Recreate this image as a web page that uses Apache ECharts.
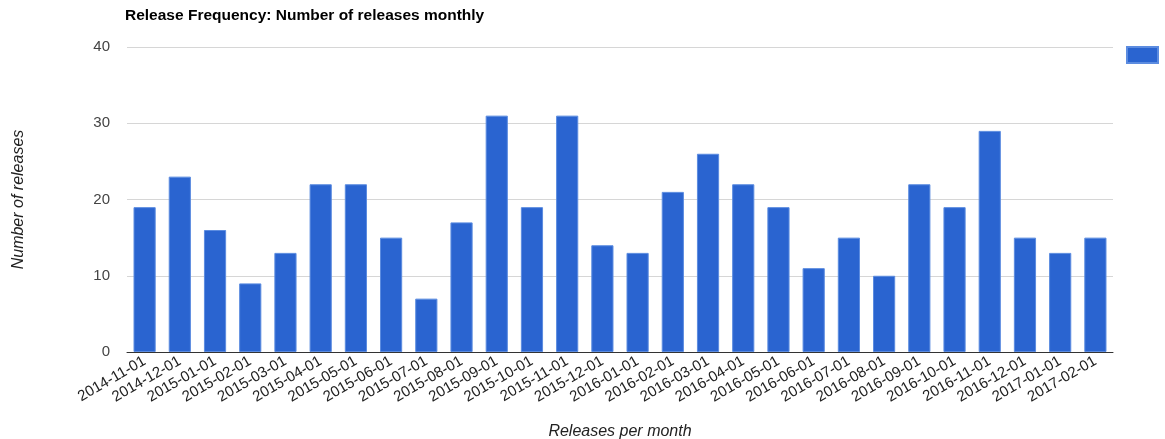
<!DOCTYPE html>
<html>
<head>
<meta charset="utf-8">
<script src="https://cdn.jsdelivr.net/npm/echarts@6/dist/echarts.min.js"></script>
<style>
  html, body { margin: 0; padding: 0; background: #fff; }
  #chart { width: 1165px; height: 439px; }
</style>
</head>
<body>
<div id="chart"></div>
<script>
// 月份
const months = [
    '2014-11-01', '2014-12-01', '2015-01-01', '2015-02-01', '2015-03-01', '2015-04-01', '2015-05-01',
    '2015-06-01', '2015-07-01', '2015-08-01', '2015-09-01', '2015-10-01', '2015-11-01', '2015-12-01',
    '2016-01-01', '2016-02-01', '2016-03-01', '2016-04-01', '2016-05-01', '2016-06-01', '2016-07-01',
    '2016-08-01', '2016-09-01', '2016-10-01', '2016-11-01', '2016-12-01', '2017-01-01', '2017-02-01'
];
// 每月发布数
const releases = [19, 23, 16, 9, 13, 22, 22, 15, 7, 17, 31, 19, 31, 14, 13, 21, 26, 22, 19, 11, 15, 10, 22, 19, 29, 15, 13, 15];

const chart = echarts.init(document.getElementById('chart'));

const option = {
    animation: false,
    textStyle: { fontFamily: 'Liberation Sans, Arial, sans-serif' },
    title: {
        text: 'Release Frequency: Number of releases monthly',
        left: 120,
        top: 3,
        textStyle: { fontSize: 15.5, fontWeight: 'bold', color: '#000' }
    },
    legend: {
        right: 1,
        top: 41,
        icon: 'rect',
        itemWidth: 31,
        itemHeight: 16,
        itemGap: 0,
        formatter: function() { return ''; },
        data: ['releases']
    },
    grid: {
        left: 127,
        right: 52,
        top: 47,
        bottom: 87,
        outerBoundsMode: 'none'
    },
    xAxis: {
        type: 'category',
        data: months,
        name: 'Releases per month',
        nameLocation: 'middle',
        nameGap: 72,
        nameTextStyle: { fontStyle: 'italic', fontSize: 16, color: '#222' },
        axisLine: { lineStyle: { color: '#333' } },
        axisTick: { show: false },
        axisLabel: {
            interval: 0,
            rotate: 30,
            fontSize: 15,
            color: '#222',
            margin: 8
        }
    },
    yAxis: {
        type: 'value',
        min: 0,
        max: 40,
        interval: 10,
        name: 'Number of releases',
        nameLocation: 'middle',
        nameGap: 100,
        nameTextStyle: { fontStyle: 'italic', fontSize: 16, color: '#222' },
        axisLine: { show: false },
        axisTick: { show: false },
        axisLabel: { fontSize: 15, color: '#444', margin: 17 },
        splitLine: { lineStyle: { color: '#d6d6d6' } }
    },
    series: [{
        name: 'releases',
        type: 'bar',
        barWidth: '63%',
        itemStyle: {
            color: '#2a64d0',
            borderColor: '#5c8ce0',
            borderWidth: 1
        },
        data: releases
    }]
};

chart.setOption(option);
</script>
</body>
</html>
